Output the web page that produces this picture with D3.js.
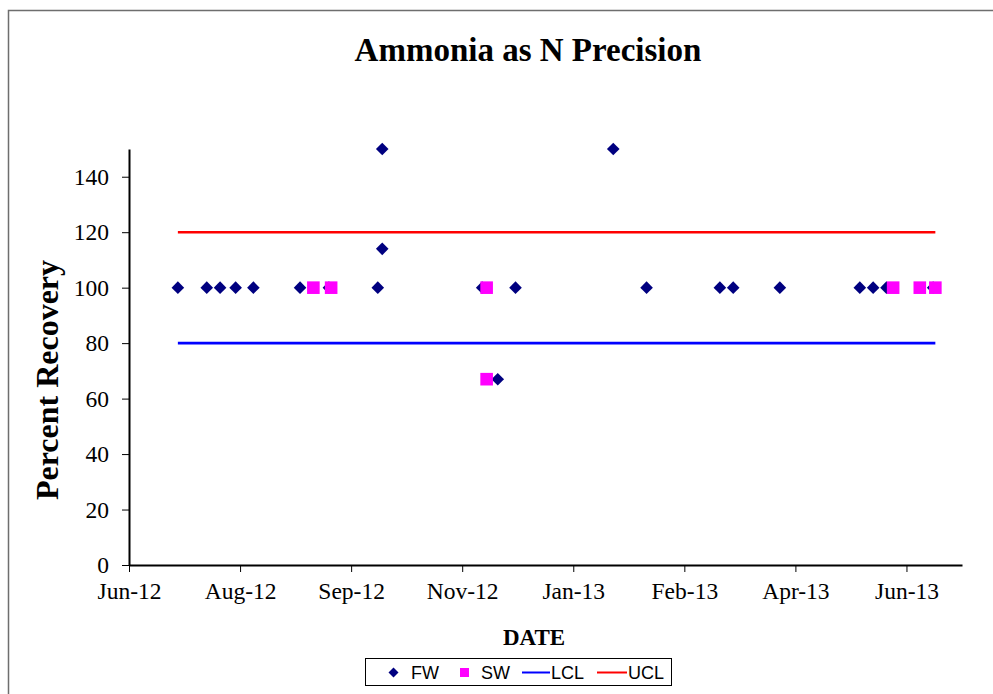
<!DOCTYPE html>
<html>
<head>
<meta charset="utf-8">
<script src="https://cdn.jsdelivr.net/npm/d3@7"></script>
<style>
  html, body { margin: 0; padding: 0; background: #fff; }
  svg { display: block; }
  .serif { font-family: "Palatino Linotype", "Book Antiqua", "Liberation Serif", serif; }
  .sans { font-family: "Liberation Sans", Arial, sans-serif; }
</style>
</head>
<body>
<svg id="chart" width="993" height="694"></svg>
<script>
// FW duplicate results (% recovery)
const fwDates = ["2012-07-12","2012-07-25","2012-07-31","2012-08-07","2012-08-15","2012-09-05",
  "2012-09-18","2012-10-10","2012-10-12","2012-10-12","2012-11-26","2012-12-03","2012-12-11",
  "2013-01-24","2013-02-08","2013-03-13","2013-03-19","2013-04-09","2013-05-15","2013-05-21",
  "2013-05-27","2013-06-17"];
const fwValues = [100,100,100,100,100,100,100,100,150,114,100,67,100,150,100,100,100,100,100,100,100,100];

// SW duplicate results (% recovery)
const swDates = ["2012-09-11","2012-09-19","2012-11-28","2012-11-28","2013-05-30","2013-06-11","2013-06-18"];
const swValues = [100,100,100,67,100,100,100];

// Control limits
const limitDates = ["2012-07-12","2013-06-18"];
const lclValues = [80,80];
const uclValues = [120,120];

// Axis setup
const xDomain = ["2012-06-20","2013-06-30"];
const xTickDates = ["2012-06-20","2012-08-09","2012-09-28","2012-11-17","2013-01-06","2013-02-25","2013-04-16","2013-06-05"];
const yTicks = [0,20,40,60,80,100,120,140];
const yDomain = [0,150];

const parse = d3.utcParse("%Y-%m-%d");
const fmt = d3.utcFormat("%b-%y");

const svg = d3.select("#chart");
const plot = { left: 129, right: 962, top: 149, bottom: 565 };

// chart frame
svg.append("rect")
  .attr("x", 8.5).attr("y", 10.5)
  .attr("width", 1000).attr("height", 700)
  .attr("fill", "#fff").attr("stroke", "#6e6e6e").attr("stroke-width", 1.5);

const x = d3.scaleUtc().domain(xDomain.map(parse)).range([plot.left, plot.right]);
const y = d3.scaleLinear().domain(yDomain).range([plot.bottom, plot.top]);

// title
svg.append("text").attr("class", "serif")
  .attr("x", 528).attr("y", 61)
  .attr("text-anchor", "middle")
  .attr("font-size", 33).attr("font-weight", "bold")
  .text("Ammonia as N Precision");

// y axis
const yAxis = svg.append("g")
  .attr("transform", `translate(${plot.left},0)`)
  .call(d3.axisLeft(y).tickValues(yTicks).tickSize(7).tickPadding(13).tickSizeOuter(0));
yAxis.select(".domain").attr("stroke", "#000").attr("stroke-width", 2);
yAxis.selectAll(".tick line").attr("stroke", "#000").attr("stroke-width", 1);
yAxis.selectAll(".tick text").attr("class", "serif").attr("font-size", 23.5).attr("fill", "#000");

// x axis
const xAxis = svg.append("g")
  .attr("transform", `translate(0,${plot.bottom})`)
  .call(d3.axisBottom(x).tickValues(xTickDates.map(parse)).tickFormat(fmt)
    .tickSize(7).tickPadding(10).tickSizeOuter(0));
xAxis.select(".domain").attr("stroke", "#000").attr("stroke-width", 2);
xAxis.selectAll(".tick line").attr("stroke", "#000").attr("stroke-width", 1);
xAxis.selectAll(".tick text").attr("class", "serif").attr("font-size", 23.5).attr("fill", "#000");

// axis titles
svg.append("text").attr("class", "serif")
  .attr("transform", "translate(58,380) rotate(-90)")
  .attr("text-anchor", "middle")
  .attr("font-size", 32).attr("font-weight", "bold")
  .text("Percent Recovery");

svg.append("text").attr("class", "serif")
  .attr("x", 534).attr("y", 645)
  .attr("text-anchor", "middle")
  .attr("font-size", 23).attr("font-weight", "bold")
  .text("DATE");

// control limit lines
const limitLine = vals => d3.line()
  .x((d, i) => x(parse(limitDates[i])))
  .y((d, i) => y(vals[i]))(vals);

svg.append("path").attr("d", limitLine(lclValues))
  .attr("fill", "none").attr("stroke", "#0000FF").attr("stroke-width", 2.6);
svg.append("path").attr("d", limitLine(uclValues))
  .attr("fill", "none").attr("stroke", "#FF0000").attr("stroke-width", 2.6);

// markers
const diamond = s => `M0,${-s}L${s},0L0,${s}L${-s},0Z`;

svg.append("g").selectAll("path")
  .data(fwDates.map((d, i) => ({ date: parse(d), value: fwValues[i] })))
  .join("path")
  .attr("d", diamond(6.3))
  .attr("transform", d => `translate(${x(d.date)},${y(d.value)})`)
  .attr("fill", "#000080");

svg.append("g").selectAll("rect")
  .data(swDates.map((d, i) => ({ date: parse(d), value: swValues[i] })))
  .join("rect")
  .attr("x", d => x(d.date) - 6.3).attr("y", d => y(d.value) - 6.3)
  .attr("width", 12.6).attr("height", 12.6)
  .attr("fill", "#FF00FF");

// legend
const lg = svg.append("g");
lg.append("rect").attr("x", 365.5).attr("y", 658.5).attr("width", 306).attr("height", 27)
  .attr("fill", "#fff").attr("stroke", "#000").attr("stroke-width", 1);
lg.append("path").attr("d", diamond(5)).attr("transform", "translate(393.5,672.5)").attr("fill", "#000080");
lg.append("rect").attr("x", 460).attr("y", 668).attr("width", 9).attr("height", 9).attr("fill", "#FF00FF");
lg.append("line").attr("x1", 522).attr("x2", 550).attr("y1", 672.5).attr("y2", 672.5)
  .attr("stroke", "#0000FF").attr("stroke-width", 2);
lg.append("line").attr("x1", 597).attr("x2", 627).attr("y1", 672.5).attr("y2", 672.5)
  .attr("stroke", "#FF0000").attr("stroke-width", 2);
const legendLabels = [["FW", 411], ["SW", 481], ["LCL", 551], ["UCL", 628]];
lg.selectAll("text.lab").data(legendLabels).join("text")
  .attr("class", "sans")
  .attr("x", d => d[1]).attr("y", 679)
  .attr("font-size", 18).attr("fill", "#000")
  .text(d => d[0]);
</script>
</body>
</html>
